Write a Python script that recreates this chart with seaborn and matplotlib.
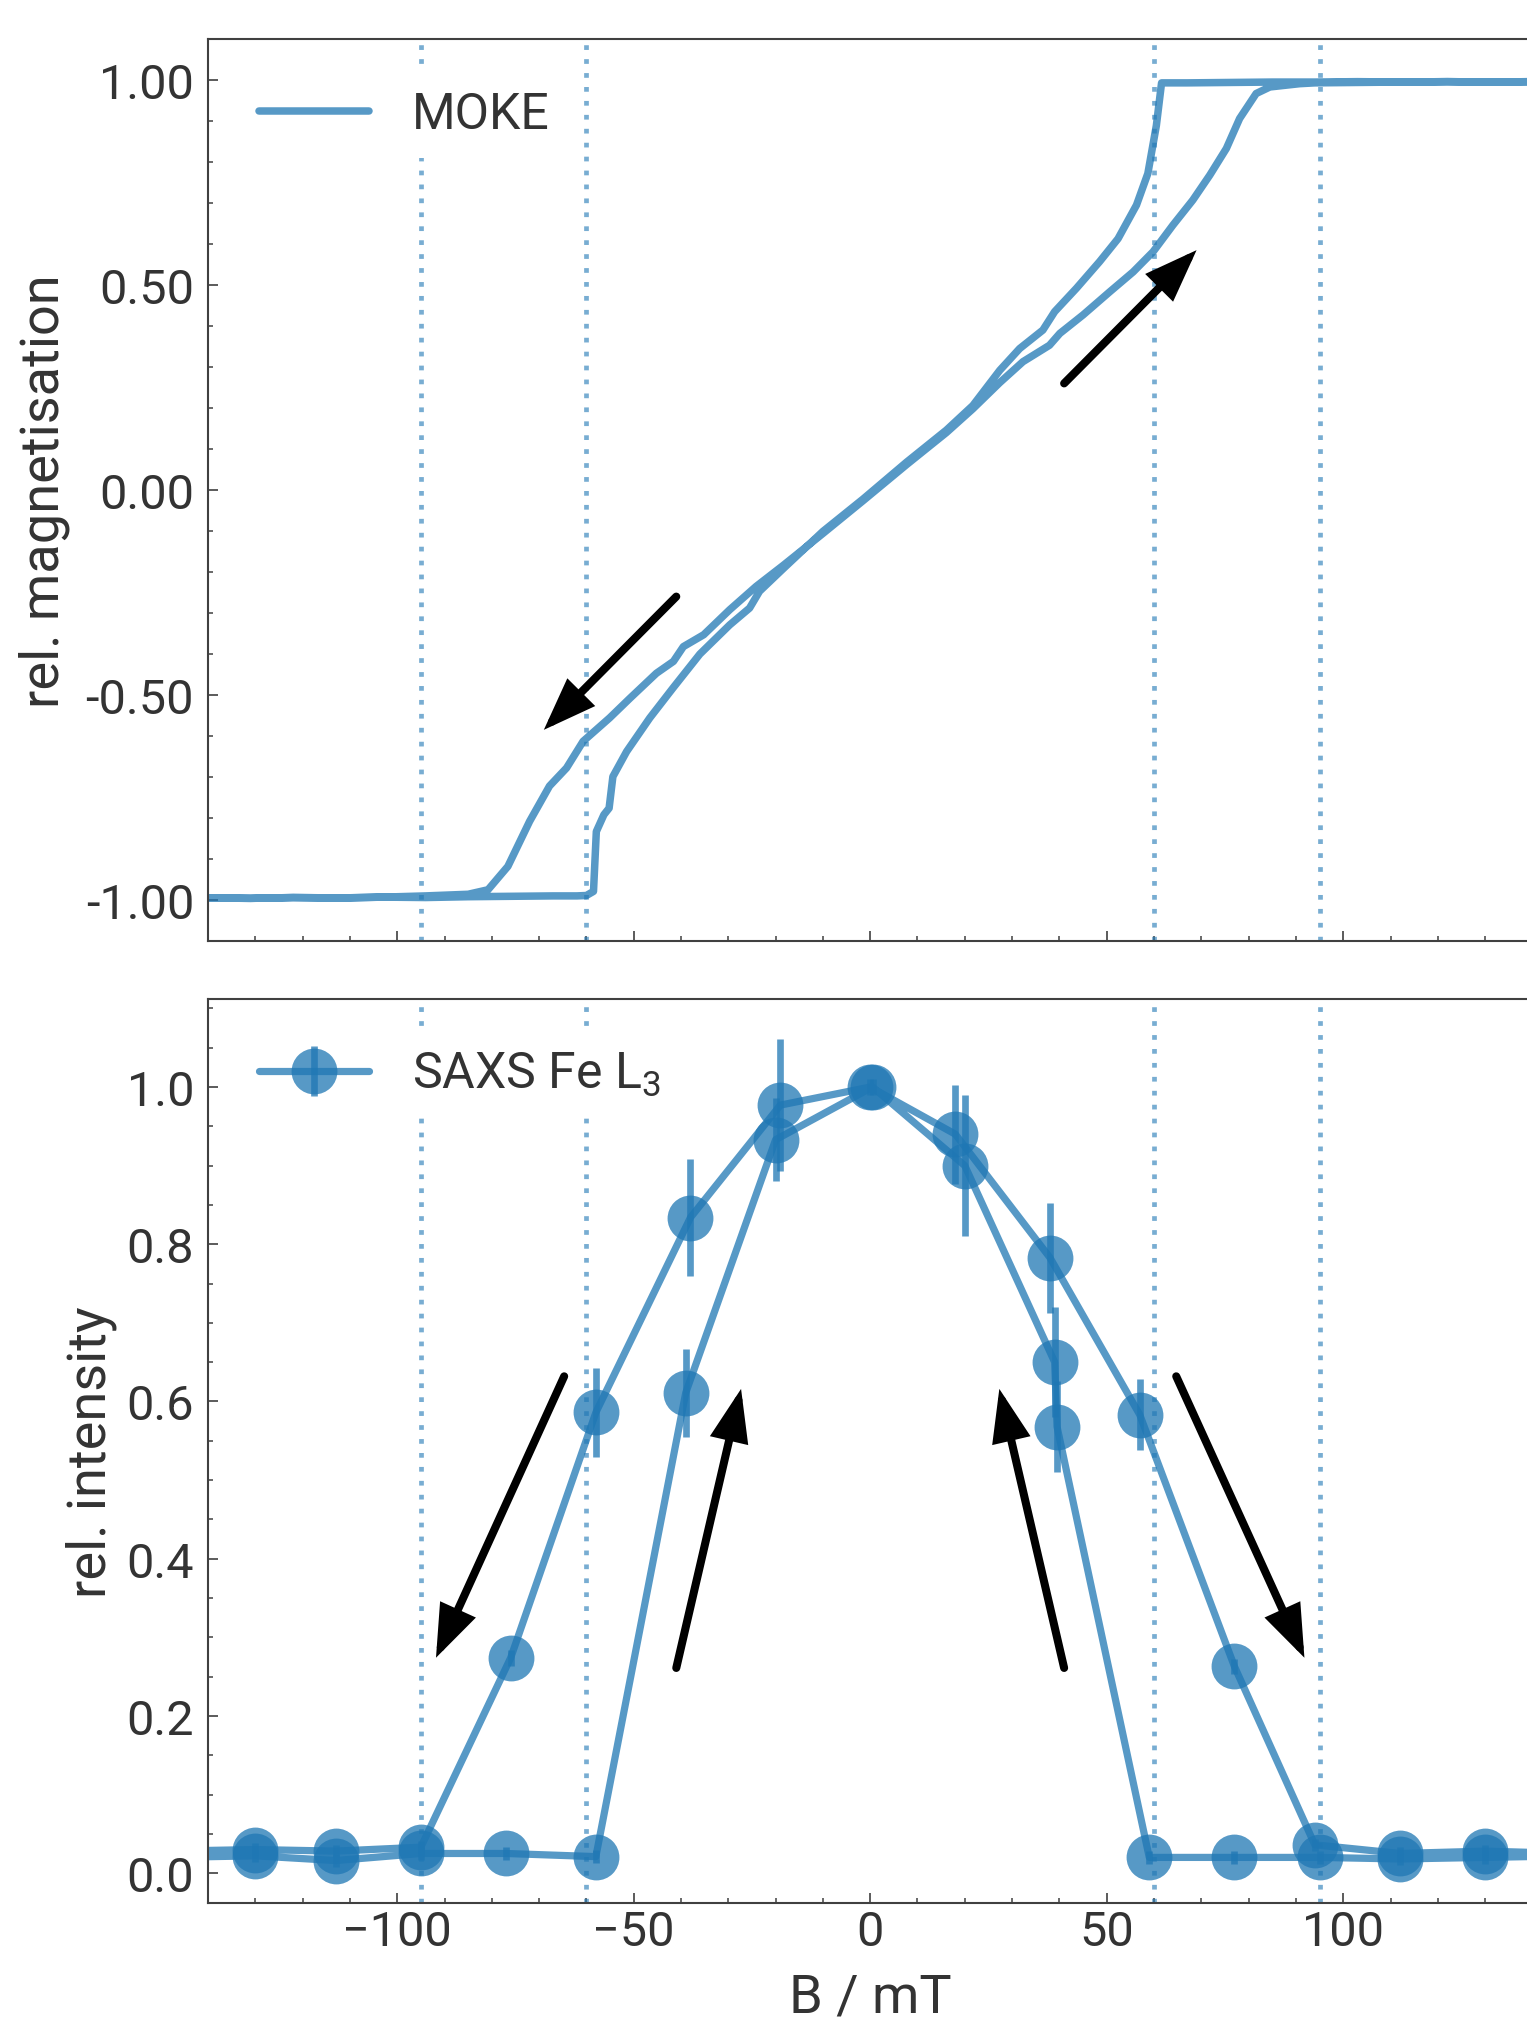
import matplotlib
matplotlib.use("Agg")
import matplotlib.pyplot as plt
from matplotlib.ticker import MultipleLocator, FormatStrFormatter
import numpy as np
import pandas as pd
import seaborn as sns

# ---- MOKE hysteresis (relative magnetisation vs field) ----
# branch with abrupt switching near +/-60 mT, swept upwards
moke_sharp_b = [-140, -131, -122, -112, -103, -94, -85, -76, -67, -62,
                -60.0, -58.5, -57.9, -56.3, -55.2, -54.4, -51.5, -46.6, -41.7, -36.0,
                -29.7, -25.5, -23.4, -18.4, -10.0, -1.5, 7.7, 16.1, 21.7, 27.4,
                31.6, 36.5, 39.0, 43.6, 48.5, 52.4, 56.3, 58.7, 60.5, 61.6,
                67, 76, 85, 94, 103, 112, 122, 131, 140]
moke_sharp_m = [-0.995, -0.996, -0.994, -0.995, -0.993, -0.994, -0.992, -0.991, -0.990, -0.990,
                -0.989, -0.979, -0.833, -0.792, -0.776, -0.699, -0.638, -0.556, -0.483, -0.400,
                -0.329, -0.288, -0.247, -0.192, -0.101, -0.022, 0.068, 0.146, 0.206, 0.292,
                0.345, 0.390, 0.435, 0.492, 0.557, 0.613, 0.695, 0.772, 0.889, 0.993,
                0.993, 0.994, 0.995, 0.995, 0.996, 0.995, 0.996, 0.995, 0.996]
# branch with gradual saturation near +/-80 mT, swept downwards
moke_soft_b = [140, 131, 122, 112, 103, 94, 90.8, 84.5, 81.6, 78.1,
               75.3, 71.8, 68.2, 64.0, 59.8, 55.6, 50.6, 45.0, 40.1, 37.9,
               32.3, 27.4, 21.7, 16.1, 7.7, -1.5, -10.0, -18.4, -24.1, -29.7,
               -35.2, -39.5, -41.6, -45.2, -50.8, -55.1, -60.7, -64.2, -67.8, -72.0,
               -76.6, -80.8, -85, -94, -103, -112, -122, -131, -140]
moke_soft_m = [0.996, 0.995, 0.996, 0.995, 0.994, 0.993, 0.991, 0.983, 0.967, 0.906,
               0.833, 0.768, 0.707, 0.646, 0.581, 0.532, 0.483, 0.427, 0.382, 0.353,
               0.313, 0.262, 0.198, 0.140, 0.062, -0.026, -0.106, -0.184, -0.235, -0.292,
               -0.353, -0.382, -0.418, -0.447, -0.508, -0.556, -0.613, -0.678, -0.722, -0.808,
               -0.918, -0.975, -0.986, -0.990, -0.993, -0.995, -0.994, -0.996, -0.995]

# ---- SAXS Fe L3 (relative scattered intensity vs field) ----
saxs_wide_b = [-148, -130, -113, -95, -76, -58, -38, -19, 0, 18, 38, 57, 77, 94, 112, 130, 148]
saxs_wide_i = [0.028, 0.030, 0.028, 0.033, 0.274, 0.586, 0.834, 0.977, 1.000,
               0.940, 0.783, 0.583, 0.263, 0.036, 0.025, 0.028, 0.025]
saxs_wide_err = [0.008, 0.008, 0.008, 0.008, 0.010, 0.057, 0.075, 0.084, 0.010,
                 0.063, 0.070, 0.045, 0.010, 0.008, 0.008, 0.008, 0.008]
saxs_narrow_b = [148, 130, 112, 95, 77, 59, 39.5, 39, 20, 0.5, -20, -39, -58, -77, -95, -113, -130, -148]
saxs_narrow_i = [0.022, 0.020, 0.018, 0.020, 0.020, 0.020, 0.568, 0.650, 0.900, 1.000,
                 0.933, 0.611, 0.021, 0.025, 0.025, 0.016, 0.022, 0.020]
saxs_narrow_err = [0.008, 0.008, 0.008, 0.008, 0.008, 0.008, 0.058, 0.070, 0.090, 0.010,
                   0.053, 0.056, 0.008, 0.008, 0.008, 0.008, 0.008, 0.008]

# characteristic switching fields (mT)
switch_fields = [-95, -60, 60, 95]

# sweep-direction arrows: (tail, head) in data coordinates
moke_arrows = [((41.0, 0.26), (69.0, 0.585)), ((-41.0, -0.26), (-69.0, -0.585))]
saxs_arrows = [((-64.7, 0.632), (-91.8, 0.274)), ((-41.0, 0.261), (-27.3, 0.616)),
               ((41.0, 0.261), (27.3, 0.616)), ((64.7, 0.632), (91.8, 0.274))]

BLUE = "#1f77b4"
TEXT = "#333333"
EDGE = "#404040"
TICK_FS = 35
LEG_FS = 36
LABEL_FS = 39

sns.set_theme(style="ticks", rc={
    "xtick.direction": "in", "ytick.direction": "in",
    "axes.edgecolor": EDGE, "axes.linewidth": 1.5,
    "xtick.color": EDGE, "ytick.color": EDGE,
    "xtick.labelcolor": TEXT, "ytick.labelcolor": TEXT,
    "axes.labelcolor": TEXT, "text.color": TEXT,
})
plt.rcParams["font.family"] = ["Roboto", "DejaVu Sans"]
plt.rcParams["mathtext.fontset"] = "custom"
plt.rcParams["mathtext.rm"] = "Roboto"
plt.rcParams["mathtext.it"] = "Roboto:italic"
plt.rcParams["mathtext.default"] = "regular"

W, H = 1527, 2024
fig = plt.figure(figsize=(W / 100, H / 100), dpi=100)
ax_w = 280 * 4.73 / W
ax1 = fig.add_axes([208 / W, 1 - 942 / H, ax_w, 902 / H])
ax2 = fig.add_axes([208 / W, 1 - 1904 / H, ax_w, 904 / H])


def style_axis(ax):
    ax.set_xlim(-140, 140)
    ax.xaxis.set_major_locator(MultipleLocator(50))
    ax.xaxis.set_minor_locator(MultipleLocator(10))
    ax.tick_params(which="major", length=7.2, width=1.2, labelsize=TICK_FS)
    ax.tick_params(which="minor", length=3.6, width=1.1)
    ax.tick_params(axis="y", which="major", pad=10)
    ax.tick_params(axis="x", which="major", pad=4.5)
    ax.tick_params(top=False, right=False, which="both")
    for v in switch_fields:
        ax.axvline(v, color=BLUE, alpha=0.6, lw=3.4, ls=(0, (1, 1.95)), zorder=1.5)


def draw_arrows(ax, arrows):
    for tail, head in arrows:
        ax.annotate("", xy=head, xytext=tail,
                    arrowprops=dict(arrowstyle="-|>,head_length=1.35,head_width=0.5",
                                    mutation_scale=20, lw=5.8, color="black",
                                    shrinkA=0, shrinkB=0, capstyle="round",
                                    joinstyle="miter"))


# ---- top panel: MOKE ----
style_axis(ax1)
moke = pd.DataFrame({"B": moke_sharp_b + moke_soft_b, "M": moke_sharp_m + moke_soft_m})
sns.lineplot(data=moke, x="B", y="M", sort=False, estimator=None, ax=ax1,
             color=BLUE, alpha=0.75, lw=5.4, label="MOKE")
ax1.set_ylim(-1.1, 1.1)
ax1.yaxis.set_major_locator(MultipleLocator(0.5))
ax1.yaxis.set_minor_locator(MultipleLocator(0.1))
ax1.yaxis.set_major_formatter(FormatStrFormatter("%.2f"))
ax1.set_xticklabels([])
ax1.set_xlabel("")
ax1.set_ylabel("rel. magnetisation", fontsize=LABEL_FS)
ax1.yaxis.set_label_coords(-0.104, 0.5)
draw_arrows(ax1, moke_arrows)

# ---- bottom panel: SAXS ----
style_axis(ax2)
saxs_b = saxs_wide_b + saxs_narrow_b
saxs_i = saxs_wide_i + saxs_narrow_i
saxs_e = saxs_wide_err + saxs_narrow_err
ax2.errorbar(saxs_b, saxs_i, yerr=saxs_e, fmt="-o", color=BLUE, alpha=0.75,
             lw=5.2, elinewidth=4.8, capsize=0, ms=33, mew=0,
             label="SAXS Fe L$_3$")
ax2.set_ylim(-0.038, 1.112)
ax2.yaxis.set_major_locator(MultipleLocator(0.2))
ax2.yaxis.set_minor_locator(MultipleLocator(0.05))
ax2.yaxis.set_major_formatter(FormatStrFormatter("%.1f"))
ax2.set_ylabel("rel. intensity", fontsize=LABEL_FS)
ax2.yaxis.set_label_coords(-0.069, 0.5)
ax2.set_xlabel("B / mT", fontsize=LABEL_FS, labelpad=12)
draw_arrows(ax2, saxs_arrows)

for ax in (ax1, ax2):
    leg = ax.legend(loc="upper left", fontsize=LEG_FS, frameon=True, framealpha=1,
                    fancybox=False, borderaxespad=0.62, handlelength=2.2,
                    handletextpad=0.85, borderpad=0.4)
    leg.get_frame().set_edgecolor("none")
    leg.get_frame().set_facecolor("white")
    for t in leg.get_texts():
        t.set_color(TEXT)

fig.savefig("out.png", dpi=100)
